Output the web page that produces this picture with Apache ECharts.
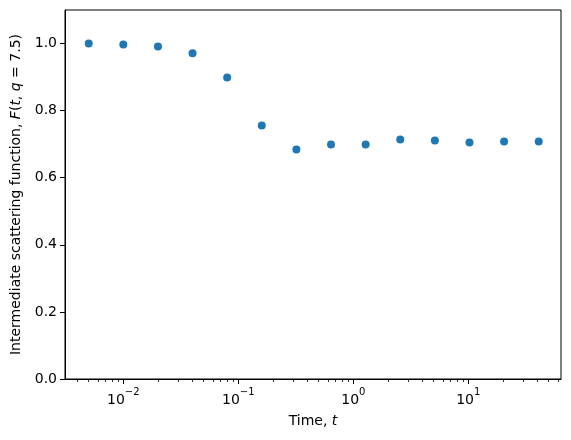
<!DOCTYPE html>
<html>
<head>
<meta charset="utf-8">
<script src="https://cdn.jsdelivr.net/npm/echarts@6/dist/echarts.min.js"></script>
<style>
  html, body { margin: 0; padding: 0; background: #fff; }
  #chart { width: 571px; height: 440px; }
</style>
</head>
<body>
<div id="chart"></div>
<script>
// time points (log axis) and F(t, q = 7.5)
var times = [0.005, 0.01, 0.02, 0.04, 0.08, 0.16, 0.32, 0.64, 1.28, 2.56, 5.12, 10.24, 20.48, 40.96];
var fValues = [1.0, 0.997, 0.991, 0.971, 0.899, 0.756, 0.684, 0.699, 0.699, 0.714, 0.711, 0.705, 0.708, 0.708];

// ticks
var xMajorTicks = [0.01, 0.1, 1, 10];
var xMinorTicks = [
  0.004, 0.005, 0.006, 0.007, 0.008, 0.009,
  0.02, 0.03, 0.04, 0.05, 0.06, 0.07, 0.08, 0.09,
  0.2, 0.3, 0.4, 0.5, 0.6, 0.7, 0.8, 0.9,
  2, 3, 4, 5, 6, 7, 8, 9,
  20, 30, 40, 50, 60
];
var yTicks = [0, 0.2, 0.4, 0.6, 0.8, 1.0];

var FONT = 'DejaVu Sans';
var xMin = 0.00311, xMax = 64.0;

var chart = echarts.init(document.getElementById('chart'), null, { renderer: 'canvas' });

chart.setOption({
  animation: false,
  textStyle: { fontFamily: FONT },
  grid: {
    left: 65, right: 10, top: 10, bottom: 61,
    show: true, borderColor: '#000', borderWidth: 1, backgroundColor: '#fff'
  },
  xAxis: [
    {
      type: 'log',
      logBase: 10,
      min: xMin,
      max: xMax,
      name: '{n|Time, }{i|t}',
      nameLocation: 'middle',
      nameGap: 35,
      nameTextStyle: {
        rich: {
          n: { fontFamily: FONT, fontSize: 14, color: '#000' },
          i: { fontFamily: FONT, fontSize: 14, fontStyle: 'italic', color: '#000' }
        }
      },
      splitLine: { show: false },
      axisLine: { show: true, lineStyle: { color: '#000', width: 1 } },
      axisTick: { show: true, length: 5, lineStyle: { color: '#000', width: 1 }, customValues: xMajorTicks },
      axisLabel: {
        customValues: xMajorTicks,
        margin: 8,
        formatter: function (v) {
          var e = Math.round(Math.log10(v));
          return '{b|10}{s|' + (e < 0 ? '\u2212' + (-e) : e) + '}';
        },
        rich: {
          b: { fontFamily: FONT, fontSize: 14, color: '#000', verticalAlign: 'bottom', lineHeight: 20 },
          s: { fontFamily: FONT, fontSize: 10, color: '#000', verticalAlign: 'top', lineHeight: 20 }
        }
      }
    },
    {
      type: 'log',
      logBase: 10,
      min: xMin,
      max: xMax,
      position: 'bottom',
      splitLine: { show: false },
      axisLine: { show: false },
      axisTick: { show: true, length: 3, lineStyle: { color: '#000', width: 0.8 }, customValues: xMinorTicks },
      axisLabel: { show: false }
    }
  ],
  yAxis: {
    type: 'value',
    min: 0,
    max: 1.1,
    name: '{n|Intermediate scattering function, }{i|F}{n|(}{i|t}{n|, }{i|q}{n| = 7.5)}',
    nameLocation: 'middle',
    nameGap: 41,
    nameTextStyle: {
      rich: {
        n: { fontFamily: FONT, fontSize: 14, color: '#000' },
        i: { fontFamily: FONT, fontSize: 14, fontStyle: 'italic', color: '#000' }
      }
    },
    splitLine: { show: false },
    axisLine: { show: true, lineStyle: { color: '#000', width: 1 } },
    axisTick: { show: true, length: 5, lineStyle: { color: '#000', width: 1 }, customValues: yTicks },
    axisLabel: {
      customValues: yTicks,
      margin: 8,
      fontFamily: FONT,
      fontSize: 14,
      color: '#000',
      formatter: function (v) { return v.toFixed(1); }
    }
  },
  series: [
    {
      type: 'scatter',
      xAxisIndex: 0,
      symbol: 'circle',
      symbolSize: 8,
      itemStyle: { color: '#1f77b4', opacity: 1 },
      data: times.map(function (t, i) { return [t, fValues[i]]; })
    }
  ]
});
</script>
</body>
</html>
